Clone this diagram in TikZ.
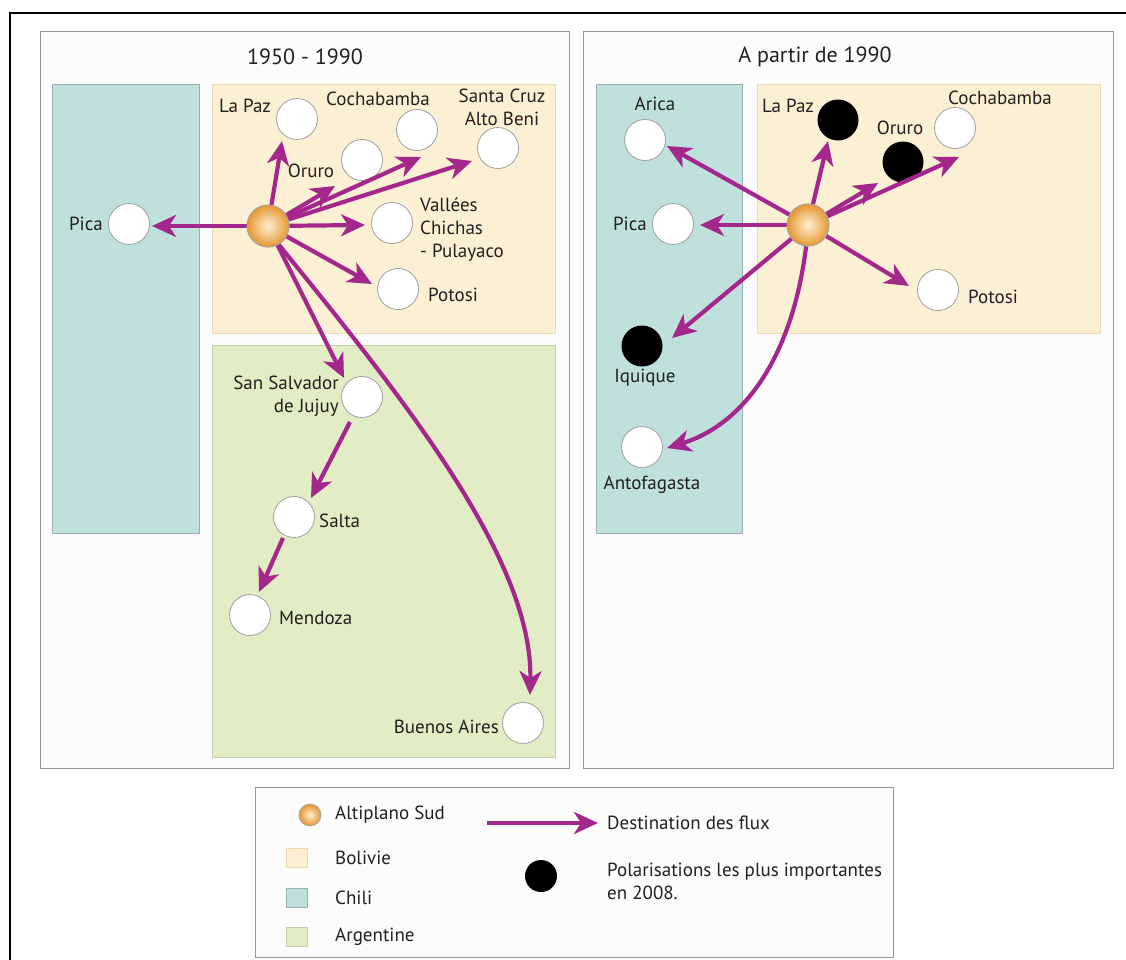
\documentclass[tikz,border=0pt]{standalone}
\usepackage{fontspec}
\setmainfont{PT Sans}
\usetikzlibrary{arrows.meta,shadings}
\definecolor{flow}{RGB}{164,40,140}
\definecolor{bol}{RGB}{252,240,212}
\definecolor{bolb}{RGB}{240,218,178}
\definecolor{chi}{RGB}{192,224,221}
\definecolor{chib}{RGB}{150,178,176}
\definecolor{arg}{RGB}{227,237,197}
\definecolor{argb}{RGB}{196,206,168}
\definecolor{txt}{RGB}{35,31,32}
\definecolor{orl}{RGB}{254,240,210}
\definecolor{ord}{RGB}{230,150,50}
\definecolor{panelb}{RGB}{150,150,150}
\begin{document}
\begin{tikzpicture}[x=1pt,y=-1pt,
  city/.style={circle,draw=gray!75,fill=white,line width=0.8pt,minimum size=41pt,inner sep=0pt},
  pole/.style={circle,fill=black,minimum size=41pt,inner sep=0pt},
  alti/.style={circle,draw=gray!70,line width=0.8pt,inner color=orl,outer color=ord,minimum size=42pt,inner sep=0pt},
  lbl/.style={font=\fontsize{19}{23}\selectfont,text=txt,inner sep=1pt},
  ttl/.style={font=\fontsize{22}{26}\selectfont,text=txt,inner sep=1pt},
  flowarrow/.style={draw=flow,line width=4.2pt,-{Stealth[length=24pt,width=22pt,inset=7pt]}},
  panel/.style={draw=panelb,fill=white!98!gray,line width=0.8pt},
  bolbox/.style={draw=bolb,fill=bol,line width=0.8pt},
  chibox/.style={draw=chib,fill=chi,line width=0.8pt},
  argbox/.style={draw=argb,fill=arg,line width=0.8pt}
]
\useasboundingbox (0,0) rectangle (1126,959);
\fill[white] (0,0) rectangle (1126,959);
\draw[black,line width=2.2pt] (10,13) rectangle (1130,963);

% panels
\path[panel] (40,31) rectangle (569,768);
\path[panel] (583,31) rectangle (1113,768);
\node[ttl] (t1) at (305,57) {1950 - 1990};
\node[ttl] (t2) at (815,57) {A partir de 1990};

% left regions
\path[chibox] (52,84) rectangle (199,533);
\path[bolbox] (212,84) rectangle (555,333);
\path[argbox] (212,345) rectangle (555,757);

% right regions
\path[chibox] (596,84) rectangle (742,533);
\path[bolbox] (757,84) rectangle (1100,333);

% ---------- left panel nodes
\node[alti] (a1) at (268,226) {};
\node[city] (pica1) at (129,224) {};
\node[lbl,anchor=east] (pica1l) at (104,224) {Pica};
\node[city] (lp1) at (297,119) {};
\node[lbl] (lp1l) at (245,106) {La Paz};
\node[city] (cb1) at (417,130) {};
\node[lbl] (cb1l) at (378,99) {Cochabamba};
\node[city] (sc1) at (498,148) {};
\node[lbl,align=center] (sc1l) at (502,107) {Santa Cruz\\Alto Beni};
\node[city] (or1) at (362,160) {};
\node[lbl] (or1l) at (311,171) {Oruro};
\node[city] (va1) at (392,223) {};
\node[lbl,align=left,anchor=west] (va1l) at (419,230) {Vallées\\Chichas\\- Pulayaco};
\node[city] (po1) at (398,289) {};
\node[lbl,anchor=west] (po1l) at (427,295) {Potosi};
\node[city] (ss1) at (362,397) {};
\node[lbl,align=right,anchor=east] (ss1l) at (340,396) {San Salvador\\de Jujuy};
\node[city] (sa1) at (294,517) {};
\node[lbl,anchor=west] (sa1l) at (318,521) {Salta};
\node[city] (me1) at (250,615) {};
\node[lbl,anchor=west] (me1l) at (278,618) {Mendoza};
\node[city] (ba1) at (523,723) {};
\node[lbl,anchor=east] (ba1l) at (500,727) {Buenos Aires};

% left arrow tips
\coordinate (tpica1) at (152,226);
\coordinate (tlp1) at (282,141);
\coordinate (tor1) at (335,186);
\coordinate (tcb1) at (421,157);
\coordinate (tsc1) at (472,161);
\coordinate (tva1) at (365,225);
\coordinate (tpo1) at (372,284);
\coordinate (tss1) at (344,378);
\coordinate (tba1) at (530,695);
\coordinate (sss1) at (350,422);
\coordinate (tsa1) at (311,498);
\coordinate (ssa1) at (283,538);
\coordinate (tme1) at (259,592);

\draw[flowarrow] (a1) -- (tpica1);
\draw[flowarrow] (a1) -- (tlp1);
\draw[flowarrow] (a1) -- (tor1);
\draw[flowarrow] (a1) -- (tcb1);
\draw[flowarrow] (a1) -- (tsc1);
\draw[flowarrow] (a1) -- (tva1);
\draw[flowarrow] (a1) -- (tpo1);
\draw[flowarrow] (a1) -- (tss1);
\draw[flowarrow] (a1.300) .. controls (405,400) and (533,560) .. (tba1);
\draw[flowarrow] (sss1) -- (tsa1);
\draw[flowarrow] (ssa1) -- (tme1);
\node[alti] (a1b) at (a1) {};

% ---------- right panel nodes
\node[alti] (a2) at (808,225) {};
\node[city] (ar2) at (645,140) {};
\node[lbl] (ar2l) at (655,104) {Arica};
\node[city] (pica2) at (673,224) {};
\node[lbl,anchor=east] (pica2l) at (648,224) {Pica};
\node[pole] (lp2) at (838,120) {};
\node[lbl] (lp2l) at (788,106) {La Paz};
\node[pole] (or2) at (903,162) {};
\node[lbl] (or2l) at (900,128) {Oruro};
\node[city] (cb2) at (955,128) {};
\node[lbl] (cb2l) at (1000,98) {Cochabamba};
\node[city] (po2) at (938,290) {};
\node[lbl,anchor=west] (po2l) at (967,297) {Potosi};
\node[pole] (iq2) at (642,346) {};
\node[lbl] (iq2l) at (645,378) {Iquique};
\node[city] (an2) at (642,447) {};
\node[lbl] (an2l) at (652,485) {Antofagasta};

\coordinate (tar2) at (667,146);
\coordinate (tpica2) at (700,225);
\coordinate (tlp2) at (828,141);
\coordinate (tor2) at (878,183);
\coordinate (tcb2) at (959,157);
\coordinate (tpo2) at (909,286);
\coordinate (tiq2) at (672,338);
\coordinate (tan2) at (667,448);

\draw[flowarrow] (a2) -- (tar2);
\draw[flowarrow] (a2) -- (tpica2);
\draw[flowarrow] (a2) -- (tlp2);
\draw[flowarrow] (a2) -- (tor2);
\draw[flowarrow] (a2) -- (tcb2);
\draw[flowarrow] (a2) -- (tpo2);
\draw[flowarrow] (a2) -- (tiq2);
\draw[flowarrow] (a2.265) .. controls (792,360) and (742,425) .. (tan2);
\node[alti] (a2b) at (a2) {};

% ---------- legend
\path[panel] (255,787) rectangle (893,957);
\node[alti,minimum size=22pt] (lgA) at (310,815) {};
\node[lbl,anchor=west] (lgAl) at (334,815) {Altiplano Sud};
\path[bolbox] (286,848) rectangle (307,867);
\node[lbl,anchor=west] (lgBl) at (334,858) {Bolivie};
\path[chibox] (286,888) rectangle (307,907);
\node[lbl,anchor=west] (lgCl) at (334,898) {Chili};
\path[argbox] (286,927) rectangle (307,946);
\node[lbl,anchor=west] (lgGl) at (334,937) {Argentine};
\coordinate (lgs) at (487,823);
\coordinate (lge) at (598,823);
\draw[flowarrow] (lgs) -- (lge);
\node[lbl,anchor=west] (lgFl) at (606,823) {Destination des flux};
\node[pole,minimum size=32pt] (lgP) at (541,876) {};
\node[lbl,anchor=west,align=left] (lgPl) at (606,881) {Polarisations les plus importantes\\en 2008.};
\end{tikzpicture}
\end{document}
